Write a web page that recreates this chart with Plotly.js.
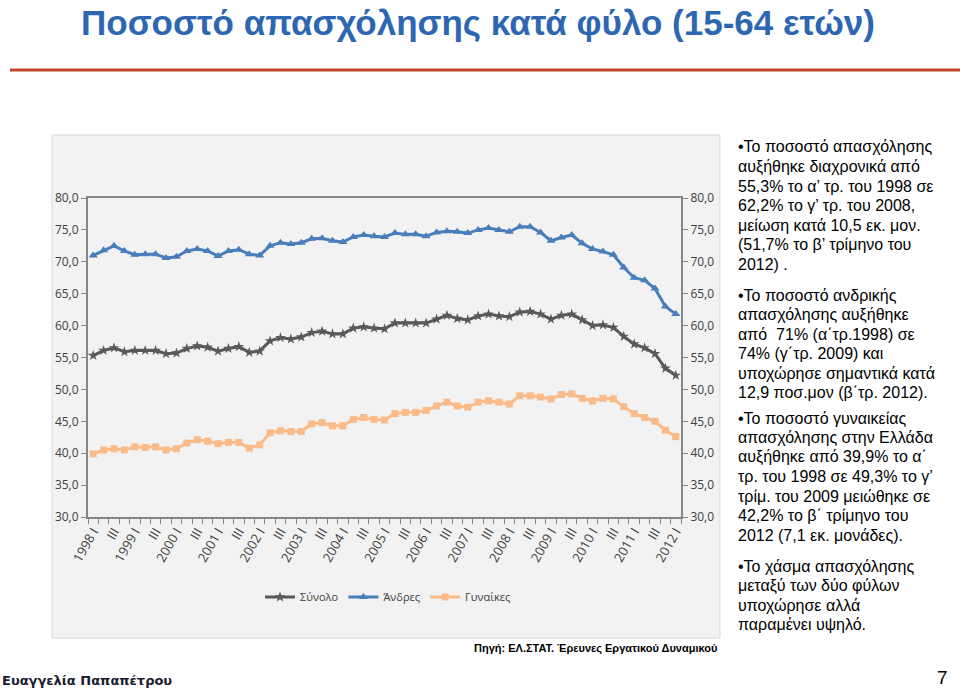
<!DOCTYPE html>
<html>
<head>
<meta charset="utf-8">
<script src="https://cdn.plot.ly/plotly-3.0.1.min.js"></script>
<style>html,body{margin:0;padding:0;background:#ffffff;}#chart{width:960px;height:689px;}</style>
</head>
<body>
<div id="chart"></div>
<script>
// ---- Data ----
const categories = [
 "1998 I","1998 II","1998 III","1998 IV","1999 I","1999 II","1999 III","1999 IV",
 "2000 I","2000 II","2000 III","2000 IV","2001 I","2001 II","2001 III","2001 IV",
 "2002 I","2002 II","2002 III","2002 IV","2003 I","2003 II","2003 III","2003 IV",
 "2004 I","2004 II","2004 III","2004 IV","2005 I","2005 II","2005 III","2005 IV",
 "2006 I","2006 II","2006 III","2006 IV","2007 I","2007 II","2007 III","2007 IV",
 "2008 I","2008 II","2008 III","2008 IV","2009 I","2009 II","2009 III","2009 IV",
 "2010 I","2010 II","2010 III","2010 IV","2011 I","2011 II","2011 III","2011 IV",
 "2012 I"
];
const tickLabels = [
 "1998 I","III","1999 I","III","2000 I","III","2001 I","III","2002 I","III",
 "2003 I","III","2004 I","III","2005 I","III","2006 I","III","2007 I","III",
 "2008 I","III","2009 I","III","2010 I","III","2011 I","III","2012 I"
];
const total = [
 55.3,56.1,56.5,55.9,56.1,56.1,56.1,55.6,55.7,56.4,56.8,56.6,56.0,56.4,56.7,55.8,
 56.0,57.6,58.1,57.9,58.2,58.9,59.1,58.7,58.7,59.6,59.8,59.6,59.5,60.4,60.4,60.4,
 60.4,61.0,61.6,61.1,60.9,61.5,61.8,61.5,61.4,62.1,62.2,61.8,61.0,61.6,61.8,60.9,
 60.0,60.1,59.7,58.3,57.1,56.5,55.6,53.3,52.2
];
const men = [
 71.0,71.8,72.5,71.7,71.1,71.2,71.2,70.6,70.8,71.7,72.0,71.7,70.9,71.7,71.9,71.2,
 71.0,72.5,73.0,72.8,73.0,73.6,73.7,73.3,73.1,73.9,74.2,74.0,73.9,74.5,74.3,74.3,
 74.0,74.6,74.8,74.7,74.5,75.0,75.3,75.0,74.7,75.5,75.5,74.6,73.3,73.8,74.2,72.9,
 72.0,71.6,71.1,69.1,67.5,67.1,65.8,63.0,61.8
];
const women = [
 39.9,40.5,40.7,40.5,41.0,40.9,41.0,40.5,40.7,41.6,42.1,41.9,41.5,41.7,41.7,40.8,
 41.3,43.2,43.5,43.4,43.4,44.6,44.8,44.3,44.3,45.3,45.6,45.3,45.2,46.2,46.4,46.4,
 46.7,47.4,48.0,47.4,47.2,48.0,48.2,48.0,47.7,49.0,49.0,48.8,48.5,49.2,49.3,48.6,
 48.2,48.6,48.5,47.3,46.2,45.6,45.0,43.6,42.6
];
const seriesNames = ["Σύνολο","Άνδρες","Γυναίκες"];

// ---- Layout helpers (pixel -> paper) ----
const L = 88, R = 681, T = 198, B = 517;
const X = p => (p - L) / (R - L);
const Y = p => (B - p) / (B - T);

const ticktext = categories.map((c, i) => (i % 2 === 0 ? tickLabels[i / 2] : ""));

const chartFont = "Open Sans, sans-serif";
const traces = [
  {x: categories, y: total, name: seriesNames[0], type: "scatter", mode: "lines+markers",
   line: {color: "#595959", width: 3}, marker: {symbol: "star", size: 8, color: "#595959"}},
  {x: categories, y: men, name: seriesNames[1], type: "scatter", mode: "lines+markers",
   line: {color: "#4a7ebb", width: 3}, marker: {symbol: "triangle-up", size: 8, color: "#4a7ebb"}},
  {x: categories, y: women, name: seriesNames[2], type: "scatter", mode: "lines+markers", yaxis: "y2",
   line: {color: "#f9bb89", width: 3}, marker: {symbol: "square", size: 7, color: "#f9bb89"}}
];

const textFont = {family: "Liberation Sans, Arial, sans-serif", size: 16, color: "#000000"};
const paragraphs = [
  {first: 147, lines: ["•Το ποσοστό απασχόλησης","αυξήθηκε διαχρονικά από","55,3% το α’ τρ. του 1998 σε","62,2% το γ’ τρ. του 2008,","μείωση κατά 10,5 εκ. μον.","(51,7% το β’ τρίμηνο του","2012) ."]},
  {first: 295, lines: ["•Το ποσοστό ανδρικής","απασχόλησης αυξήθηκε","από  71% (α΄τρ.1998) σε","74% (γ΄τρ. 2009) και","υποχώρησε σημαντικά κατά","12,9 ποσ.μον (β΄τρ. 2012)."]},
  {first: 418, lines: ["•Το ποσοστό γυναικείας","απασχόλησης στην Ελλάδα","αυξήθηκε από 39,9% το α΄","τρ. του 1998 σε 49,3% το γ’","τρίμ. του 2009 μειώθηκε σε","42,2% το β΄ τρίμηνο του","2012 (7,1 εκ. μονάδες)."]},
  {first: 566, lines: ["•Το χάσμα απασχόλησης","μεταξύ των δύο φύλων","υποχώρησε αλλά","παραμένει υψηλό."]}
];
const LINE_STEP = 19.55;

const annotations = [];
paragraphs.forEach(p => {
  p.lines.forEach((t, k) => {
    annotations.push({xref: "paper", yref: "paper", x: X(736), y: Y(p.first + k * LINE_STEP),
      xanchor: "left", yanchor: "middle", align: "left", showarrow: false, text: t, font: textFont});
  });
});
annotations.push(
  {xref: "paper", yref: "paper", x: X(79), y: Y(1), xanchor: "left", yanchor: "top", showarrow: false,
   text: "<b>Ποσοστό απασχόλησης κατά φύλο (15-64 ετών)</b>",
   font: {family: "Liberation Sans, Arial, sans-serif", size: 35, color: "#2e67b1"}},
  {xref: "paper", yref: "paper", x: X(719), y: Y(648), xanchor: "right", yanchor: "middle", showarrow: false,
   text: "<b>Πηγή: ΕΛ.ΣΤΑΤ. Έρευνες Εργατικού Δυναμικού</b>",
   font: {family: "Liberation Sans, Arial, sans-serif", size: 11, color: "#000000"}},
  {xref: "paper", yref: "paper", x: X(0), y: Y(680), xanchor: "left", yanchor: "middle", showarrow: false,
   text: "<b>Ευαγγελία Παπαπέτρου</b>",
   font: {family: "DejaVu Sans, sans-serif", size: 13, color: "#1a1a2e"}},
  {xref: "paper", yref: "paper", x: X(950), y: Y(677), xanchor: "right", yanchor: "middle", showarrow: false,
   text: "7", font: {family: "Liberation Sans, Arial, sans-serif", size: 19, color: "#000000"}}
);

const yTickFont = {family: chartFont, size: 12, color: "#404040"};
const layout = {
  width: 960, height: 689,
  margin: {l: L, r: 960 - R, t: T, b: 689 - B, pad: 0},
  paper_bgcolor: "#ffffff", plot_bgcolor: "rgba(0,0,0,0)",
  separators: ", ",
  showlegend: true,
  legend: {orientation: "h", x: X(388), y: Y(597), xanchor: "center", yanchor: "middle",
           font: {family: chartFont, size: 11, color: "#404040"}, bgcolor: "rgba(0,0,0,0)",
           itemwidth: 30},
  xaxis: {type: "category", categoryorder: "array", categoryarray: categories,
          range: [-0.5, categories.length - 0.5],
          tickmode: "array", tickvals: categories, ticktext: ticktext, tickangle: -60,
          tickson: "boundaries", ticks: "outside", ticklen: 5, tickcolor: "#868686", tickwidth: 1,
          showline: true, linecolor: "#868686", linewidth: 2, mirror: true,
          showgrid: false, zeroline: false, tickfont: {family: chartFont, size: 13, color: "#404040"}},
  yaxis: {range: [30, 80], dtick: 5, tick0: 30, tickformat: ".1f", ticks: "outside", ticklen: 5,
          tickcolor: "#868686", showline: true, linecolor: "#868686", linewidth: 2,
          showgrid: false, zeroline: false, tickfont: yTickFont},
  yaxis2: {range: [30, 80], dtick: 5, tick0: 30, tickformat: ".1f", ticks: "outside", ticklen: 5,
           overlaying: "y", side: "right", anchor: "x",
           tickcolor: "#868686", showline: true, linecolor: "#868686", linewidth: 2,
           showgrid: false, zeroline: false, tickfont: yTickFont},
  shapes: [
    {type: "rect", xref: "paper", yref: "paper", x0: X(52), x1: X(720), y0: Y(638), y1: Y(135),
     fillcolor: "#f2f2f2", line: {color: "#d9d9d9", width: 1}, layer: "below"},
    {type: "line", xref: "paper", yref: "paper", x0: X(10), x1: X(960), y0: Y(70), y1: Y(70),
     line: {color: "#c0452b", width: 3}}
  ],
  annotations: annotations
};

Plotly.newPlot("chart", traces, layout, {displayModeBar: false, staticPlot: true});
</script>
</body>
</html>
